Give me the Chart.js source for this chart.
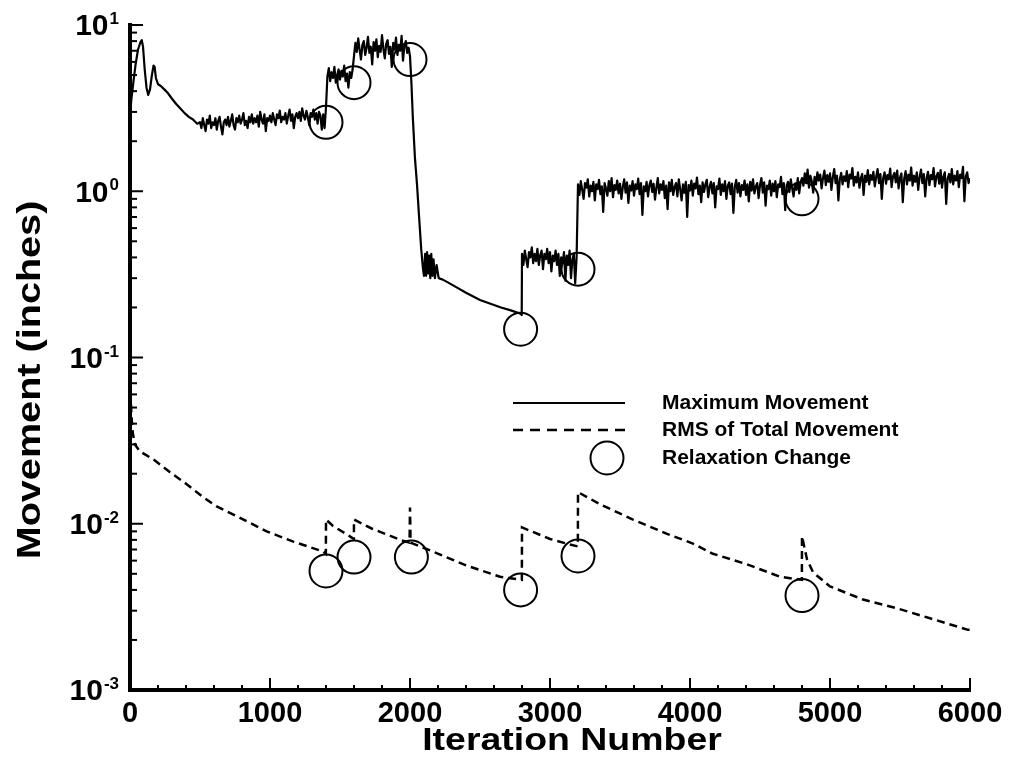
<!DOCTYPE html>
<html>
<head>
<meta charset="utf-8">
<script src="https://cdn.jsdelivr.net/npm/chart.js@4.4.0/dist/chart.umd.min.js"></script>
<style>
html, body { margin: 0; padding: 0; background: #fff; }
</style>
</head>
<body>
<canvas id="myChart" width="1011" height="768"></canvas>
<script>
// Maximum movement: start transient (read point by point)
const maxStartIter = [0, 10, 25, 40, 57, 75, 84, 93, 105, 118, 130, 143, 155, 168, 176, 185, 200, 220, 245, 270, 300, 330, 360, 390, 420, 450, 480];
const maxStartVal  = [2.8, 3.6, 4.6, 5.8, 7.1, 7.9, 8.1, 7.4, 5.4, 4.2, 3.8, 4.1, 4.9, 5.7, 5.6, 4.8, 4.4, 4.3, 4.1, 3.9, 3.6, 3.35, 3.15, 2.95, 2.8, 2.7, 2.55];

// noisy bands, one value every 10 iterations
const bandStep = 10;
const band1Start = 500;
const band1 = [
  2.6, 2.4, 2.75, 2.5, 2.3, 2.7, 2.55, 2.85, 2.4, 2.6,
  2.5, 2.75, 2.35, 2.65, 2.8, 2.45, 2.2, 2.6, 2.7, 2.5,
  2.8, 2.45, 2.65, 2.9, 2.5, 2.35, 2.75, 2.6, 2.85, 2.55,
  2.7, 2.95, 2.5, 2.65, 2.4, 2.8, 2.6, 2.9, 2.55, 2.75,
  2.6, 2.85, 2.45, 3.0, 2.7, 2.55, 2.9, 2.3, 2.75, 2.65,
  2.85, 2.6, 2.95, 2.7, 2.5, 2.9, 2.75, 3.05, 2.6, 2.8,
  2.7, 2.95, 2.55, 2.85, 3.1, 2.65, 2.9, 2.4, 2.8, 2.95,
  2.75, 3.0, 2.65, 3.15, 2.85, 2.7, 3.05, 2.8, 2.5, 2.95,
  2.8, 3.1, 2.7, 2.95, 2.55, 3.0, 2.85, 2.35, 2.9, 2.4];
const band2Start = 1400;
const band2 = [3.2, 4.9, 5.5, 4.6, 5.2, 4.8, 5.6, 4.5, 5.0, 5.4, 4.7, 5.3, 4.9, 5.7, 4.6, 5.1, 4.2, 5.2, 4.8, 5.4];
const band3Start = 1600;
const band3 = [
  6.5, 7.8, 6.9, 8.3, 7.1, 6.2, 7.6, 8.0, 6.6, 7.3,
  8.5, 6.8, 7.4, 5.8, 7.9, 7.0, 8.2, 6.4, 7.5, 6.9,
  8.7, 7.2, 6.3, 7.7, 8.1, 6.7, 7.4, 5.6, 7.8, 7.1,
  8.4, 6.6, 7.6, 7.0, 8.6, 6.1, 7.5, 8.0, 6.8, 7.3];

// drop after 2000 and slow decay
const maxDropIter = [2000, 2010, 2020, 2035, 2050, 2065, 2080, 2093, 2100, 2108, 2115, 2122, 2130, 2137, 2145, 2152, 2160, 2168, 2178, 2190, 2205, 2230, 2264, 2330, 2400, 2500, 2580, 2650, 2720, 2786, 2798];
const maxDropVal  = [6.5, 4.5, 2.8, 1.6, 1.1, 0.7, 0.45, 0.34, 0.31, 0.42, 0.31, 0.43, 0.32, 0.41, 0.3, 0.42, 0.31, 0.39, 0.3, 0.36, 0.3, 0.295, 0.285, 0.265, 0.245, 0.222, 0.21, 0.2, 0.192, 0.184, 0.18];

const band4Start = 2800;
const band4 = [
  0.42, 0.36, 0.44, 0.39, 0.35, 0.43, 0.40, 0.46, 0.37, 0.42,
  0.38, 0.45, 0.36, 0.41, 0.44, 0.34, 0.42, 0.39, 0.45, 0.37,
  0.43, 0.33, 0.41, 0.38, 0.44, 0.36, 0.42, 0.31, 0.40, 0.37,
  0.43, 0.29, 0.41, 0.36, 0.44, 0.30, 0.39, 0.42, 0.28, 0.40];
const band5Start = 3200;
const band5 = [
  1.1, 0.95, 1.15, 1.02, 0.9, 1.12, 1.05, 1.18, 0.93, 1.08,
  1.0, 1.14, 0.88, 1.1, 1.03, 1.17, 0.96, 1.07, 0.75, 1.12,
  1.04, 0.94, 1.15, 1.0, 1.2, 0.92, 1.09, 1.02, 1.16, 0.97,
  1.11, 0.9, 1.06, 1.18, 0.98, 1.13, 0.85, 1.08, 1.01, 1.15,
  0.94, 1.1, 1.03, 1.19, 0.96, 1.12, 0.72, 1.07, 1.0, 1.14,
  0.93, 1.09, 1.16, 0.99, 1.11, 0.89, 1.05, 1.2, 0.97, 1.1,
  1.02, 1.15, 0.91, 1.08, 0.78, 1.13, 1.0, 1.17, 0.95, 1.06,
  1.12, 0.93, 1.18, 1.03, 0.88, 1.1, 0.98, 1.14, 0.7, 1.09,
  1.01, 1.16, 0.94, 1.11, 1.04, 1.21, 0.96, 1.08, 0.86, 1.13,
  0.99, 1.1, 1.17, 0.92, 1.06, 1.14, 0.97, 1.12, 0.8, 1.07,
  1.03, 1.19, 0.95, 1.1, 1.0, 1.15, 0.9, 1.08, 1.13, 0.96,
  1.11, 0.74, 1.06, 1.17, 0.98, 1.12, 0.93, 1.09, 1.02, 1.16,
  0.95, 1.1, 0.87, 1.14, 1.01, 1.18, 0.97, 1.07, 1.12, 0.91,
  1.09, 1.2, 0.98, 1.13, 0.82, 1.08, 1.03, 1.16, 0.94, 1.11,
  1.0, 1.15, 0.92, 1.1, 1.06, 1.22, 0.96, 1.12, 0.77, 1.08,
  1.14, 0.99, 1.18, 1.04, 0.93, 1.11, 1.02, 1.2, 0.97, 1.13,
  1.2, 1.08, 1.28, 1.12, 1.35, 1.05, 1.24, 1.15, 0.98, 1.22,
  1.1, 1.3, 1.16, 1.26, 1.04, 1.2, 1.33, 1.09, 1.25, 1.14,
  1.28, 1.02, 1.21, 1.36, 1.12, 1.24, 0.88, 1.18, 1.29, 1.1,
  1.23, 1.15, 1.32, 1.06, 1.26, 1.19, 1.38, 1.08, 1.22, 1.13,
  1.3, 1.05, 1.2, 1.27, 0.95, 1.24, 1.14, 1.34, 1.1, 1.25,
  1.17, 1.31, 1.07, 1.22, 1.36, 1.12, 1.27, 0.9, 1.2, 1.3,
  1.11, 1.25, 1.18, 1.37, 1.06, 1.23, 1.29, 1.13, 1.33, 1.04,
  1.21, 1.28, 0.86, 1.19, 1.32, 1.1, 1.26, 1.16, 1.39, 1.08,
  1.24, 1.14, 1.3, 1.02, 1.22, 1.35, 1.12, 1.27, 0.93, 1.2,
  1.31, 1.09, 1.25, 1.18, 1.38, 1.07, 1.23, 1.29, 1.11, 1.34,
  1.05, 1.22, 1.3, 0.84, 1.19, 1.27, 1.13, 1.36, 1.1, 1.24,
  1.16, 1.32, 1.06, 1.26, 1.2, 1.4, 0.87, 1.23, 1.3, 1.12,
  1.2];

// RMS of total movement
const rmsIter = [0, 10, 20, 35, 71, 167, 286, 405, 524, 619, 762, 976, 1167, 1381, 1399, 1400, 1450, 1571, 1599, 1600, 1733, 1950, 1997, 2000, 2004, 2164, 2405, 2643, 2799, 2800, 3000, 3143, 3199, 3200, 3357, 3593, 3836, 4021, 4164, 4407, 4643, 4799, 4800, 4836, 4879, 5000, 5236, 5479, 5714, 5986, 6000];
const rmsVal  = [0.075, 0.045, 0.035, 0.030, 0.0272, 0.0244, 0.0204, 0.0173, 0.0144, 0.0127, 0.0111, 0.0090, 0.0078, 0.0068, 0.0066, 0.0106, 0.0097, 0.0084, 0.0081, 0.0106, 0.0093, 0.0079, 0.0077, 0.0125, 0.0077, 0.0068, 0.0056, 0.0048, 0.0046, 0.0095, 0.0081, 0.0075, 0.0073, 0.0155, 0.0131, 0.0106, 0.0087, 0.0076, 0.0066, 0.0057, 0.0048, 0.0046, 0.0084, 0.0061, 0.0051, 0.0042, 0.0035, 0.0031, 0.0027, 0.0023, 0.0023];

// relaxation change markers
const relaxIter = [1400, 1600, 2000, 2790, 3200, 4800, 1400, 1600, 2010, 2790, 3200, 4800];
const relaxVal  = [2.6, 4.5, 6.2, 0.148, 0.34, 0.9, 0.0052, 0.0063, 0.0063, 0.0040, 0.0064, 0.0037];

// axis ticks and texts
const xTickValues = [0, 1000, 2000, 3000, 4000, 5000, 6000];
const yTickValues = [10, 1, 0.1, 0.01, 0.001];
const yTickExp = ['1', '0', '-1', '-2', '-3'];
const xTitle = 'Iteration Number';
const yTitle = 'Movement (inches)';
const legendLabels = ['Maximum Movement', 'RMS of Total Movement', 'Relaxation Change'];

const FONT = '"Liberation Sans", Arial, Helvetica, sans-serif';

function pairs(xs, ys) {
    return xs.map((x, i) => ({ x: x, y: ys[i] }));
}
function band(start, vals) {
    return vals.map((v, i) => ({ x: start + i * bandStep, y: v }));
}

const maxData = [].concat(
    pairs(maxStartIter, maxStartVal),
    band(band1Start, band1),
    band(band2Start, band2),
    band(band3Start, band3),
    pairs(maxDropIter, maxDropVal),
    band(band4Start, band4),
    band(band5Start, band5)
);

// ticks pointing inward, superscript labels, titles, legend inside the plot
const decorPlugin = {
    id: 'decor',
    afterDraw(chart) {
        const ctx = chart.ctx;
        const xs = chart.scales.x, ys = chart.scales.y;
        const area = chart.chartArea;
        ctx.save();
        ctx.strokeStyle = '#000';
        ctx.fillStyle = '#000';
        ctx.lineWidth = 2;

        // x ticks every 200
        for (let it = 200; it <= 6000; it += 200) {
            const px = xs.getPixelForValue(it);
            const len = it % 1000 === 0 ? 12 : 5;
            ctx.beginPath();
            ctx.moveTo(px, area.bottom);
            ctx.lineTo(px, area.bottom - len);
            ctx.stroke();
        }
        // y ticks, decades + minors
        yTickValues.forEach(function(dec) {
            const py = ys.getPixelForValue(dec);
            ctx.beginPath();
            ctx.moveTo(area.left, py);
            ctx.lineTo(area.left + 13, py);
            ctx.stroke();
            if (dec < 10) {
                for (let m = 2; m <= 9; m++) {
                    const pm = ys.getPixelForValue(dec * m);
                    ctx.beginPath();
                    ctx.moveTo(area.left, pm);
                    ctx.lineTo(area.left + 7, pm);
                    ctx.stroke();
                }
            }
        });

        // y labels 10^n
        const right = 119;
        yTickValues.forEach(function(v, i) {
            const py = ys.getPixelForValue(v);
            ctx.font = 'bold 17px ' + FONT;
            const ew = ctx.measureText(yTickExp[i]).width;
            ctx.textAlign = 'left';
            ctx.textBaseline = 'alphabetic';
            ctx.fillText(yTickExp[i], right - ew, py - 1);
            ctx.font = 'bold 30px ' + FONT;
            ctx.textAlign = 'right';
            ctx.textBaseline = 'middle';
            ctx.fillText('10', right - ew - 1, py + 2);
        });

        // axis titles (the original face is wide, so stretch a little)
        ctx.textAlign = 'center';
        ctx.textBaseline = 'middle';
        ctx.save();
        ctx.translate(572, 741);
        ctx.scale(1.17, 1);
        ctx.font = 'bold 32px ' + FONT;
        ctx.fillText(xTitle, 0, 0);
        ctx.restore();
        ctx.save();
        ctx.translate(31, 380);
        ctx.rotate(-Math.PI / 2);
        ctx.scale(1.2, 1);
        ctx.font = 'bold 33px ' + FONT;
        ctx.fillText(yTitle, 0, 0);
        ctx.restore();

        // legend
        const lx0 = 513, lx1 = 625, tx = 662;
        const rows = [403, 430, 458];
        ctx.lineWidth = 2;
        ctx.beginPath();
        ctx.moveTo(lx0, rows[0]);
        ctx.lineTo(lx1, rows[0]);
        ctx.stroke();
        ctx.setLineDash([10, 7]);
        ctx.lineWidth = 2.5;
        ctx.beginPath();
        ctx.moveTo(lx0, rows[1]);
        ctx.lineTo(lx1, rows[1]);
        ctx.stroke();
        ctx.setLineDash([]);
        ctx.lineWidth = 2;
        ctx.beginPath();
        ctx.arc(607, rows[2], 16.5, 0, Math.PI * 2);
        ctx.stroke();
        ctx.font = 'bold 21px ' + FONT;
        ctx.textAlign = 'left';
        ctx.textBaseline = 'middle';
        legendLabels.forEach(function(t, i) {
            ctx.fillText(t, tx, rows[i]);
        });
        ctx.restore();
    }
};

const ctx = document.getElementById('myChart').getContext('2d');
new Chart(ctx, {
    type: 'line',
    data: {
        datasets: [{
            label: legendLabels[0],
            data: maxData,
            borderColor: '#000',
            borderWidth: 2.2,
            borderJoinStyle: 'round',
            pointRadius: 0,
            tension: 0
        }, {
            label: legendLabels[1],
            data: pairs(rmsIter, rmsVal),
            borderColor: '#000',
            borderWidth: 2.5,
            borderDash: [8, 5],
            pointRadius: 0,
            tension: 0
        }, {
            label: legendLabels[2],
            data: pairs(relaxIter, relaxVal),
            showLine: false,
            pointStyle: 'circle',
            pointRadius: 16.5,
            pointBorderWidth: 2,
            pointBorderColor: '#000',
            pointBackgroundColor: 'rgba(0,0,0,0)'
        }]
    },
    options: {
        responsive: false,
        animation: false,
        layout: { padding: { top: 25, right: 41, left: 0, bottom: 0 } },
        plugins: {
            legend: { display: false },
            tooltip: { enabled: false }
        },
        scales: {
            x: {
                type: 'linear',
                min: 0,
                max: 6000,
                afterBuildTicks: function(s) { s.ticks = xTickValues.map(v => ({ value: v })); },
                grid: { display: false, drawTicks: false },
                border: { display: true, color: '#000', width: 4 },
                ticks: {
                    color: '#000',
                    autoSkip: false,
                    maxRotation: 0,
                    padding: 7,
                    font: { family: FONT, size: 29, weight: 'bold' },
                    callback: function(v) { return String(v); }
                },
                title: { display: false },
                afterFit: function(s) {
                    s.height = 78;
                    s.paddingLeft = 0;
                    s.paddingRight = 0;
                }
            },
            y: {
                type: 'logarithmic',
                min: 0.001,
                max: 10,
                grid: { display: false, drawTicks: false },
                border: { display: true, color: '#000', width: 4 },
                ticks: { display: false },
                title: { display: false },
                afterFit: function(s) { s.width = 130; }
            }
        }
    },
    plugins: [decorPlugin]
});
</script>
</body>
</html>
